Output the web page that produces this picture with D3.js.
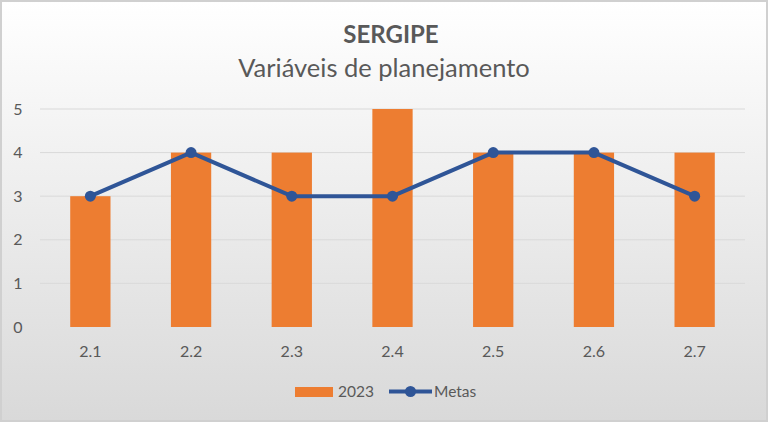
<!DOCTYPE html>
<html><head><meta charset="utf-8">
<script src="https://cdn.jsdelivr.net/npm/d3@7"></script>
<style>body{margin:0;padding:0;overflow:hidden}svg{display:block}</style>
</head><body>
<script>
const categories = ["2.1","2.2","2.3","2.4","2.5","2.6","2.7"];
const values2023 = [3,4,4,5,4,4,4];
const metas = [3,4,3,3,4,4,3];
const yTicks = [0,1,2,3,4,5];

const W=768,H=422;
const font="Lato, 'Open Sans', sans-serif";
const svg=d3.select("body").append("svg").attr("width",W).attr("height",H);
const defs=svg.append("defs");
const g=defs.append("linearGradient").attr("id","bg").attr("x1",0).attr("y1",0).attr("x2",0).attr("y2",1);
g.append("stop").attr("offset","0%").attr("stop-color","#ffffff");
g.append("stop").attr("offset","100%").attr("stop-color","#d9d9d9");
svg.append("rect").attr("x",1).attr("y",1).attr("width",W-2).attr("height",H-2).attr("fill","url(#bg)").attr("stroke","#d0d0d0").attr("stroke-width",2);

const x=d3.scaleBand().domain(categories).range([40,745]).paddingInner(0.6).paddingOuter(0.3);
const y=d3.scaleLinear().domain([0,5]).range([327,109]);

// gridlines
svg.append("g").selectAll("line").data(yTicks.filter(d=>d>0)).join("line")
 .attr("x1",40).attr("x2",745).attr("y1",d=>y(d)).attr("y2",d=>y(d))
 .attr("stroke","#d9d9d9").attr("stroke-width",1);

// y axis labels
const ya=svg.append("g").attr("transform","translate(23,0)")
 .call(d3.axisLeft(y).tickValues(yTicks).tickSize(0).tickPadding(0).tickFormat(d3.format("d")));
ya.select(".domain").remove();
ya.selectAll("text").attr("font-family",font).attr("font-size",16).attr("fill","#595959").attr("text-anchor","middle").attr("x",-5);

// x axis labels
const xa=svg.append("g").attr("transform","translate(0,327)")
 .call(d3.axisBottom(x).tickSize(0).tickPadding(19));
xa.select(".domain").remove();
xa.selectAll("text").attr("font-family",font).attr("font-size",16).attr("fill","#595959");

// bars
svg.append("g").selectAll("rect").data(values2023).join("rect")
 .attr("x",(d,i)=>x(categories[i])).attr("width",x.bandwidth())
 .attr("y",d=>y(d)).attr("height",d=>y(0)-y(d)).attr("fill","#ed7d31");

// line
const cx=(i)=>x(categories[i])+x.bandwidth()/2;
svg.append("path").datum(metas)
 .attr("d",d3.line().x((d,i)=>cx(i)).y(d=>y(d)))
 .attr("fill","none").attr("stroke","#2f5597").attr("stroke-width",4).attr("stroke-linejoin","round");
svg.append("g").selectAll("circle").data(metas).join("circle")
 .attr("cx",(d,i)=>cx(i)).attr("cy",d=>y(d)).attr("r",5.5).attr("fill","#2f5597");

// titles
svg.append("text").attr("x",391).attr("y",43).attr("text-anchor","middle")
 .attr("font-family",font).attr("font-weight","bold").attr("font-size",24).attr("fill","#595959").text("SERGIPE");
svg.append("text").attr("x",384).attr("y",77).attr("text-anchor","middle")
 .attr("font-family",font).attr("font-size",25.5).attr("fill","#595959").text("Variáveis de planejamento");

// legend
const leg=svg.append("g");
leg.append("rect").attr("x",295).attr("y",387).attr("width",38).attr("height",10).attr("fill","#ed7d31");
leg.append("text").attr("x",338).attr("y",397).attr("font-family",font).attr("font-size",15.5).attr("fill","#595959").text("2023");
leg.append("line").attr("x1",389).attr("x2",432).attr("y1",391.5).attr("y2",391.5).attr("stroke","#2f5597").attr("stroke-width",4);
leg.append("circle").attr("cx",410.5).attr("cy",391.5).attr("r",5.5).attr("fill","#2f5597");
leg.append("text").attr("x",434).attr("y",397).attr("font-family",font).attr("font-size",15.5).attr("fill","#595959").text("Metas");
</script>
</body></html>
